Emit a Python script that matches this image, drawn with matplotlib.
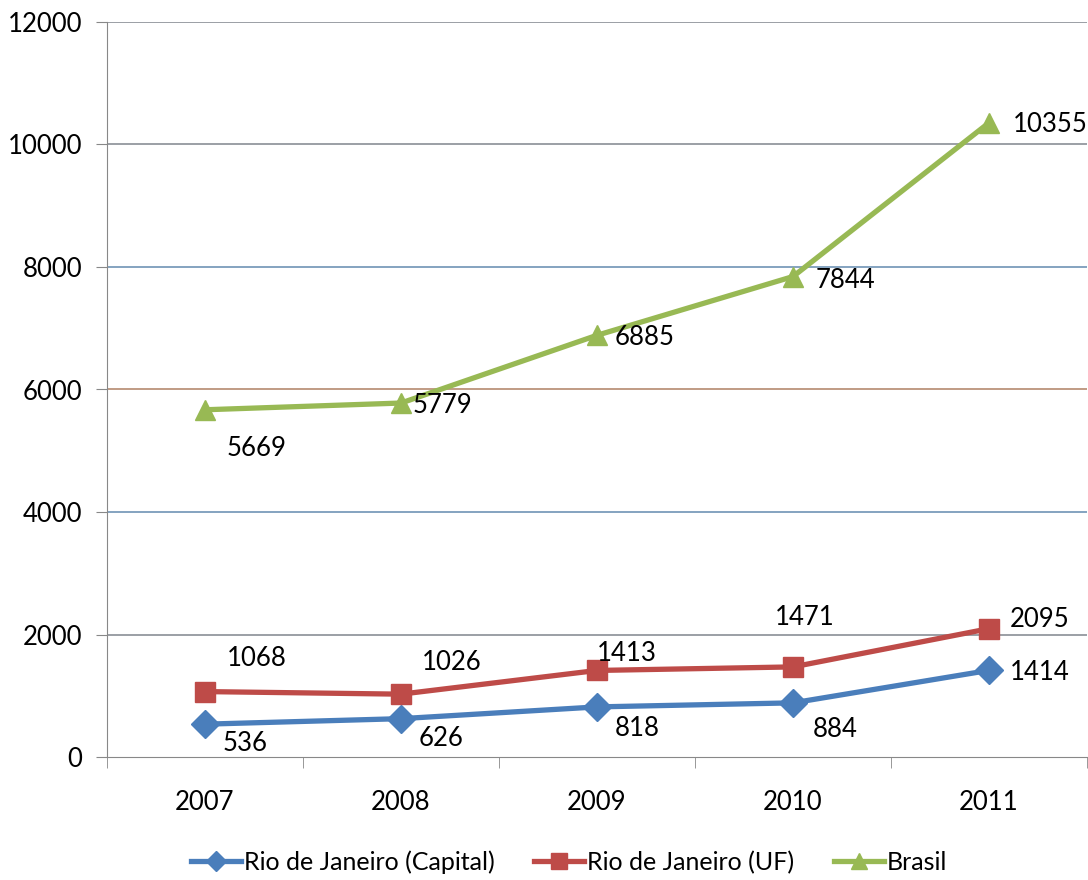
import numpy as np
import matplotlib.pyplot as plt
from matplotlib.lines import Line2D

years = ['2007', '2008', '2009', '2010', '2011']
capital = [536, 626, 818, 884, 1414]
uf = [1068, 1026, 1413, 1471, 2095]
brasil = [5669, 5779, 6885, 7844, 10355]

# label offsets in pixels (dx, dy), dy positive = up
off_capital = [(40, -19), (40, -20), (40, -22), (42, -27), (51, -2)]
off_uf = [(52, 33), (51, 32), (30, 17), (12, 49), (51, 9)]
off_brasil = [(52, -39), (41, -2), (48, -2), (52, -4), (61, -2)]

c_blue = '#4a7ebb'
c_red = '#be4b48'
c_green = '#98b954'

plt.rcParams['font.family'] = ['Lato', 'DejaVu Sans']

fig = plt.figure(figsize=(10.88, 8.8), dpi=100)
ax = fig.add_axes([107/1088, 1-757/880, 980/1088, 735/880])

x = np.arange(len(years))
ms = 14
ax.plot(x, capital, color=c_blue, lw=3.8, marker='D', ms=ms, zorder=3)
ax.plot(x, uf, color=c_red, lw=3.8, marker='s', ms=ms, zorder=3)
ax.plot(x, brasil, color=c_green, lw=3.8, marker='^', ms=ms+1, zorder=3)

for vals, offs in [(capital, off_capital), (uf, off_uf), (brasil, off_brasil)]:
    for i, v in enumerate(vals):
        dx, dy = offs[i]
        ax.annotate(str(v), (x[i], v), xytext=(dx*0.72, dy*0.72),
                    textcoords='offset points', ha='center', va='center',
                    fontsize=18.5, color='black')

ax.set_xlim(-0.5, 4.5)
ax.set_ylim(0, 12000)
ax.set_yticks(range(0, 12001, 2000))
ax.set_xticks(x)
ax.set_xticklabels(years)
ax.set_xticks(np.arange(-0.5, 4.6, 1), minor=True)
ax.tick_params(axis='x', which='major', length=0, pad=24, labelsize=18.5)
ax.tick_params(axis='x', which='minor', length=8, color='#888888')
ax.tick_params(axis='y', length=8, color='#888888', labelsize=18.5, pad=10)

grid_colors = {2000: '#8a8f96', 4000: '#6f93b5', 6000: '#b58a6f',
               8000: '#6f93b5', 10000: '#8a8f96', 12000: '#8a8f96'}
for val, col in grid_colors.items():
    ax.axhline(val, color=col, lw=1.2, zorder=1)

for s in ['top', 'right']:
    ax.spines[s].set_visible(False)
ax.spines['left'].set_color('#888888')
ax.spines['bottom'].set_color('#888888')

handles = [
    Line2D([], [], color=c_blue, lw=3.8, marker='D', ms=10),
    Line2D([], [], color=c_red, lw=3.8, marker='s', ms=11),
    Line2D([], [], color=c_green, lw=3.8, marker='^', ms=11),
]
labels = ['Rio de Janeiro (Capital)', 'Rio de Janeiro (UF)', 'Brasil']
fig.legend(handles, labels, loc='center', bbox_to_anchor=(0.523, 1-862/880),
           ncol=3, frameon=False, fontsize=18, handlelength=2.0,
           handletextpad=0.1, columnspacing=1.6)

plt.savefig('out.png', dpi=100)
